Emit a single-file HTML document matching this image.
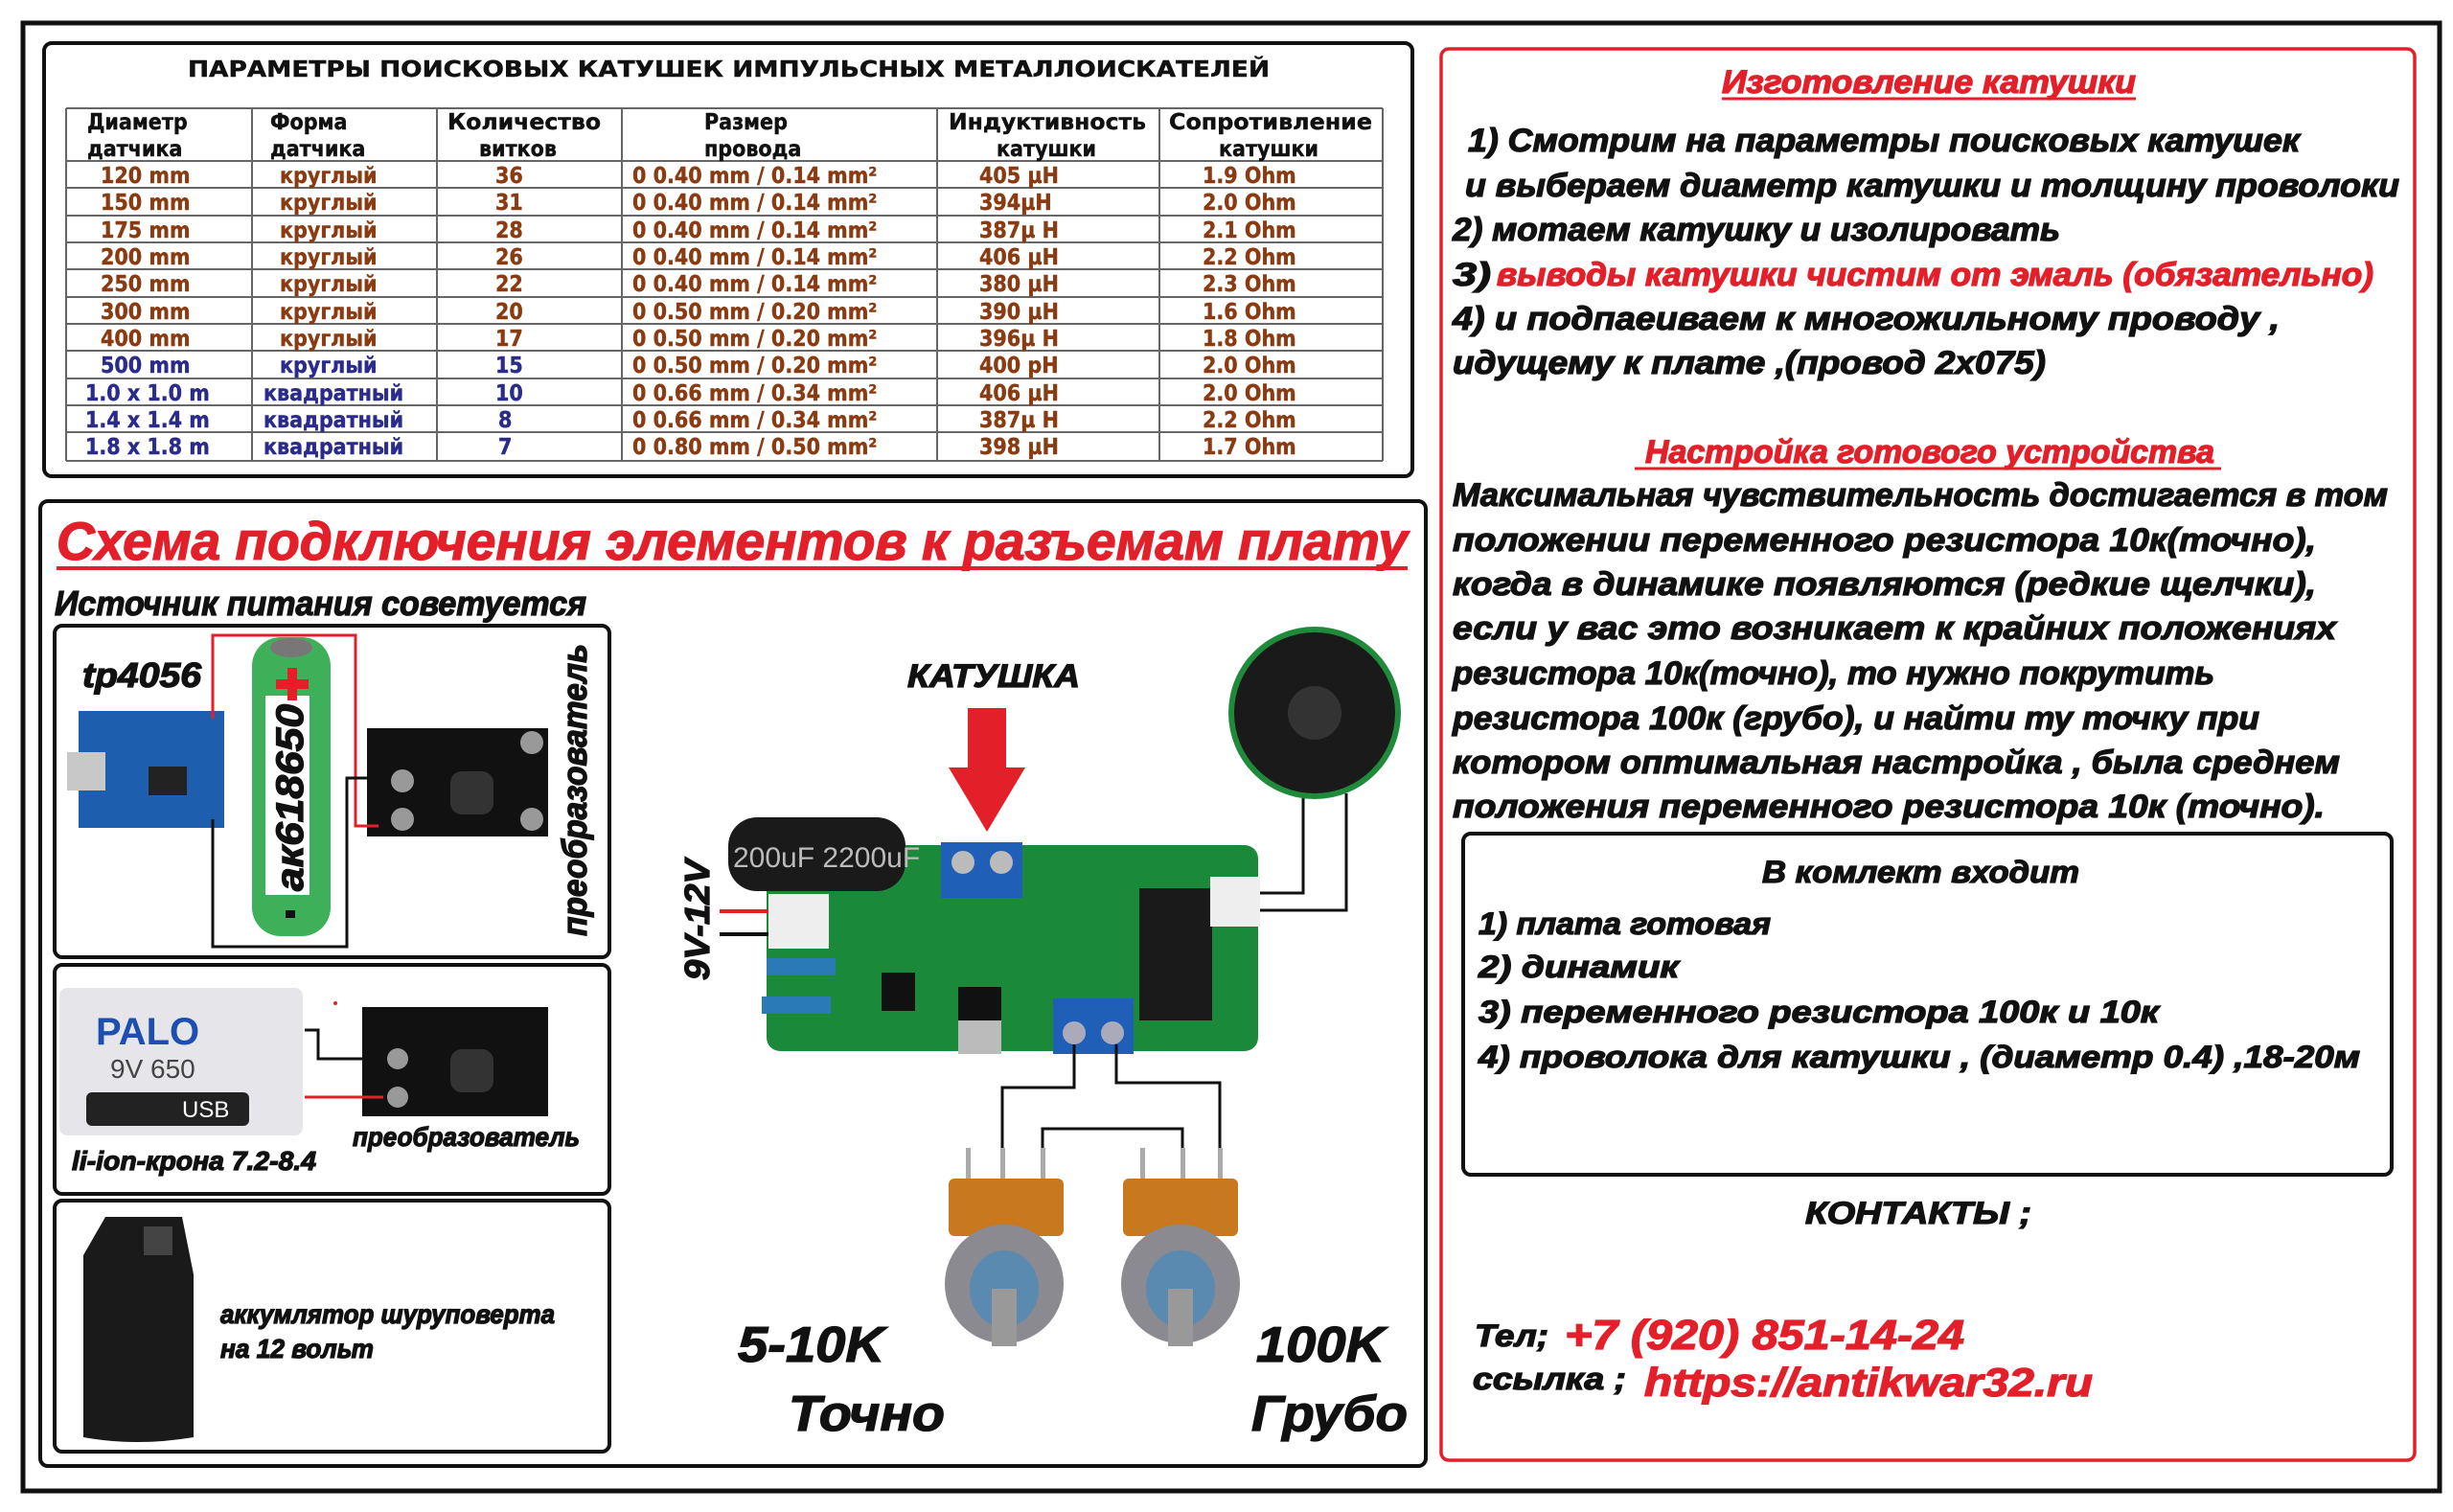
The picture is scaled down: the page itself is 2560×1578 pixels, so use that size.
<!DOCTYPE html>
<html><head><meta charset="utf-8"><style>
html,body{margin:0;padding:0;background:#fff}
svg{display:block}
.t{font-family:"DejaVu Sans Condensed","DejaVu Sans","Liberation Sans",sans-serif;font-weight:bold;font-size:23px;stroke:currentColor;stroke-width:0.4}
.r{font-family:"Liberation Sans",sans-serif;font-weight:bold;font-style:italic;stroke-width:1.3;paint-order:stroke}
</style></head><body>
<svg width="2560" height="1578" viewBox="0 0 2560 1578" xmlns="http://www.w3.org/2000/svg">
<rect width="2560" height="1578" fill="#fff"/>
<rect x="24" y="24" width="2522" height="1532" fill="none" stroke="#111" stroke-width="5"/>
<rect x="46" y="45" width="1428" height="452" rx="8" fill="none" stroke="#111" stroke-width="4"/>
<text class="t" x="196" y="80" font-size="23" fill="#111" color="#111" textLength="1129" lengthAdjust="spacingAndGlyphs">ПАРАМЕТРЫ  ПОИСКОВЫХ  КАТУШЕК  ИМПУЛЬСНЫХ  МЕТАЛЛОИСКАТЕЛЕЙ</text>
<g stroke="#666" stroke-width="2">
<line x1="69" y1="113" x2="1443" y2="113"/><line x1="69" y1="168" x2="1443" y2="168"/>
<line x1="69" y1="196" x2="1443" y2="196"/><line x1="69" y1="225" x2="1443" y2="225"/>
<line x1="69" y1="253" x2="1443" y2="253"/><line x1="69" y1="281" x2="1443" y2="281"/>
<line x1="69" y1="310" x2="1443" y2="310"/><line x1="69" y1="338" x2="1443" y2="338"/>
<line x1="69" y1="366" x2="1443" y2="366"/><line x1="69" y1="395" x2="1443" y2="395"/>
<line x1="69" y1="423" x2="1443" y2="423"/><line x1="69" y1="451" x2="1443" y2="451"/>
<line x1="69" y1="481" x2="1443" y2="481"/>
<line x1="69" y1="113" x2="69" y2="481"/><line x1="263" y1="113" x2="263" y2="481"/>
<line x1="456" y1="113" x2="456" y2="481"/><line x1="649" y1="113" x2="649" y2="481"/>
<line x1="978" y1="113" x2="978" y2="481"/><line x1="1210" y1="113" x2="1210" y2="481"/>
<line x1="1443" y1="113" x2="1443" y2="481"/>
</g>
<g class="t" fill="#111" color="#111">
<text x="91" y="135">Диаметр</text><text x="91" y="163">датчика</text>
<text x="282" y="135">Форма</text><text x="282" y="163">датчика</text>
<text x="467" y="135" textLength="160" lengthAdjust="spacingAndGlyphs">Количество</text><text x="500" y="163">витков</text>
<text x="735" y="135">Размер</text><text x="735" y="163">провода</text>
<text x="990" y="135" textLength="206" lengthAdjust="spacingAndGlyphs">Индуктивность</text><text x="1040" y="163">катушки</text>
<text x="1220" y="135" textLength="212" lengthAdjust="spacingAndGlyphs">Сопротивление</text><text x="1272" y="163">катушки</text>
</g>
<g class="t" fill="#8a3b12" color="#8a3b12">
<text x="105" y="191">120 mm</text><text x="292" y="191">круглый</text><text x="517" y="191">36</text><text x="660" y="191">0 0.40 mm / 0.14 mm²</text><text x="1022" y="191">405 µH</text><text x="1255" y="191">1.9 Ohm</text>
<text x="105" y="219">150 mm</text><text x="292" y="219">круглый</text><text x="517" y="219">31</text><text x="660" y="219">0 0.40 mm / 0.14 mm²</text><text x="1022" y="219">394µH</text><text x="1255" y="219">2.0 Ohm</text>
<text x="105" y="248">175 mm</text><text x="292" y="248">круглый</text><text x="517" y="248">28</text><text x="660" y="248">0 0.40 mm / 0.14 mm²</text><text x="1022" y="248">387µ H</text><text x="1255" y="248">2.1 Ohm</text>
<text x="105" y="276">200 mm</text><text x="292" y="276">круглый</text><text x="517" y="276">26</text><text x="660" y="276">0 0.40 mm / 0.14 mm²</text><text x="1022" y="276">406 µH</text><text x="1255" y="276">2.2 Ohm</text>
<text x="105" y="304">250 mm</text><text x="292" y="304">круглый</text><text x="517" y="304">22</text><text x="660" y="304">0 0.40 mm / 0.14 mm²</text><text x="1022" y="304">380 µH</text><text x="1255" y="304">2.3 Ohm</text>
<text x="105" y="333">300 mm</text><text x="292" y="333">круглый</text><text x="517" y="333">20</text><text x="660" y="333">0 0.50 mm / 0.20 mm²</text><text x="1022" y="333">390 µH</text><text x="1255" y="333">1.6 Ohm</text>
<text x="105" y="361">400 mm</text><text x="292" y="361">круглый</text><text x="517" y="361">17</text><text x="660" y="361">0 0.50 mm / 0.20 mm²</text><text x="1022" y="361">396µ H</text><text x="1255" y="361">1.8 Ohm</text>
<text x="660" y="389">0 0.50 mm / 0.20 mm²</text><text x="1022" y="389">400 pH</text><text x="1255" y="389">2.0 Ohm</text>
<text x="660" y="418">0 0.66 mm / 0.34 mm²</text><text x="1022" y="418">406 µH</text><text x="1255" y="418">2.0 Ohm</text>
<text x="660" y="446">0 0.66 mm / 0.34 mm²</text><text x="1022" y="446">387µ H</text><text x="1255" y="446">2.2 Ohm</text>
<text x="660" y="474">0 0.80 mm / 0.50 mm²</text><text x="1022" y="474">398 µH</text><text x="1255" y="474">1.7 Ohm</text>
</g>
<g class="t" fill="#2b2b8c" color="#2b2b8c">
<text x="105" y="389">500 mm</text><text x="292" y="389">круглый</text><text x="517" y="389">15</text>
<text x="89" y="418">1.0 x 1.0 m</text><text x="275" y="418">квадратный</text><text x="517" y="418">10</text>
<text x="89" y="446">1.4 x 1.4 m</text><text x="275" y="446">квадратный</text><text x="520" y="446">8</text>
<text x="89" y="474">1.8 x 1.8 m</text><text x="275" y="474">квадратный</text><text x="520" y="474">7</text>
</g>

<rect x="1504" y="51" width="1016" height="1473" rx="8" fill="none" stroke="#e3202a" stroke-width="3.5"/>
<g class="r" font-size="34" fill="#111" stroke="#111">
<text x="1797" y="97" fill="#e3202a" stroke="#e3202a" textLength="432" lengthAdjust="spacingAndGlyphs">Изготовление катушки</text>
<line x1="1797" y1="103" x2="2229" y2="103" stroke="#e3202a" stroke-width="3"/>
<text x="1532" y="158" textLength="868" lengthAdjust="spacingAndGlyphs">1) Смотрим на параметры поисковых катушек</text>
<text x="1529" y="205" textLength="975" lengthAdjust="spacingAndGlyphs">и выбераем диаметр катушки и толщину проволоки</text>
<text x="1516" y="251" textLength="634" lengthAdjust="spacingAndGlyphs">2) мотаем катушку и изолировать</text>
<text x="1516" y="298" textLength="40" lengthAdjust="spacingAndGlyphs">3)</text>
<text x="1562" y="298" fill="#e3202a" stroke="#e3202a" textLength="915" lengthAdjust="spacingAndGlyphs">выводы катушки чистим от эмаль (обязательно)</text>
<text x="1516" y="344" textLength="863" lengthAdjust="spacingAndGlyphs">4) и подпаеиваем к многожильному проводу ,</text>
<text x="1516" y="390" textLength="619" lengthAdjust="spacingAndGlyphs">идущему к плате ,(провод 2х075)</text>
<text x="1717" y="483" fill="#e3202a" stroke="#e3202a" textLength="594" lengthAdjust="spacingAndGlyphs">Настройка готового устройства</text>
<line x1="1706" y1="489" x2="2318" y2="489" stroke="#e3202a" stroke-width="3"/>
<text x="1516" y="528" textLength="976" lengthAdjust="spacingAndGlyphs">Максимальная чувствительность достигается в том</text>
<text x="1516" y="575" textLength="901" lengthAdjust="spacingAndGlyphs">положении переменного резистора 10к(точно),</text>
<text x="1516" y="621" textLength="901" lengthAdjust="spacingAndGlyphs">когда в динамике появляются (редкие щелчки),</text>
<text x="1516" y="667" textLength="922" lengthAdjust="spacingAndGlyphs">если у вас это возникает к крайних положениях</text>
<text x="1516" y="714" textLength="795" lengthAdjust="spacingAndGlyphs">резистора 10к(точно), то нужно покрутить</text>
<text x="1516" y="761" textLength="842" lengthAdjust="spacingAndGlyphs">резистора 100к (грубо), и найти ту точку при</text>
<text x="1516" y="807" textLength="926" lengthAdjust="spacingAndGlyphs">котором оптимальная настройка , была среднем</text>
<text x="1516" y="853" textLength="910" lengthAdjust="spacingAndGlyphs">положения переменного резистора 10к (точно).</text>
</g>
<rect x="1527" y="870" width="969" height="356" rx="8" fill="none" stroke="#111" stroke-width="4"/>
<g class="r" font-size="32" fill="#111" stroke="#111">
<text x="1839" y="921" textLength="331" lengthAdjust="spacingAndGlyphs">В комлект входит</text>
<text x="1543" y="975" textLength="305" lengthAdjust="spacingAndGlyphs">1) плата готовая</text>
<text x="1543" y="1020" textLength="209" lengthAdjust="spacingAndGlyphs">2) динамик</text>
<text x="1543" y="1067" textLength="710" lengthAdjust="spacingAndGlyphs">3) переменного резистора 100к и 10к</text>
<text x="1543" y="1114" textLength="920" lengthAdjust="spacingAndGlyphs">4) проволока для катушки , (диаметр 0.4) ,18-20м</text>
<text x="1884" y="1277" textLength="236" lengthAdjust="spacingAndGlyphs">КОНТАКТЫ ;</text>
<text x="1539" y="1405" textLength="77" lengthAdjust="spacingAndGlyphs">Тел;</text>
<text x="1633" y="1408" font-size="44" fill="#e3202a" stroke="#e3202a" textLength="417" lengthAdjust="spacingAndGlyphs">+7 (920) 851-14-24</text>
<text x="1537" y="1450" textLength="160" lengthAdjust="spacingAndGlyphs">ссылка ;</text>
<text x="1716" y="1457" font-size="42" fill="#e3202a" stroke="#e3202a" textLength="468" lengthAdjust="spacingAndGlyphs">https://antikwar32.ru</text>
</g>

<rect x="42" y="523" width="1446" height="1007" rx="8" fill="none" stroke="#111" stroke-width="4"/>
<g class="r" fill="#111" stroke="#111">
<text x="59" y="584" font-size="56" fill="#e3202a" stroke="#e3202a" textLength="1410" lengthAdjust="spacingAndGlyphs">Схема подключения элементов к разъемам плату</text>
<line x1="59" y1="593" x2="1469" y2="593" stroke="#e3202a" stroke-width="4"/>
<text x="57" y="642" font-size="36" textLength="555" lengthAdjust="spacingAndGlyphs">Источник питания советуется</text>
<text x="86" y="717" font-size="36" textLength="124" lengthAdjust="spacingAndGlyphs">tp4056</text>
<text x="947" y="717" font-size="34" textLength="180" lengthAdjust="spacingAndGlyphs">КАТУШКА</text>
<text x="368" y="1196" font-size="28" textLength="237" lengthAdjust="spacingAndGlyphs">преобразователь</text>
<text x="75" y="1221" font-size="28" textLength="255" lengthAdjust="spacingAndGlyphs">li-ion-крона 7.2-8.4</text>
<text x="230" y="1381" font-size="28" textLength="349" lengthAdjust="spacingAndGlyphs">аккумлятор шуруповерта</text>
<text x="230" y="1417" font-size="28" textLength="160" lengthAdjust="spacingAndGlyphs">на 12 вольт</text>
<text x="770" y="1421" font-size="52" textLength="153" lengthAdjust="spacingAndGlyphs">5-10K</text>
<text x="823" y="1493" font-size="52" textLength="163" lengthAdjust="spacingAndGlyphs">Точно</text>
<text x="1311" y="1421" font-size="52" textLength="134" lengthAdjust="spacingAndGlyphs">100K</text>
<text x="1306" y="1493" font-size="52" textLength="163" lengthAdjust="spacingAndGlyphs">Грубо</text>
<text transform="translate(612,977) rotate(-90)" font-size="36" textLength="305" lengthAdjust="spacingAndGlyphs">преобразователь</text>
<text transform="translate(740,1023) rotate(-90)" font-size="36" textLength="126" lengthAdjust="spacingAndGlyphs">9V-12V</text>
</g>
<rect x="57" y="653" width="579" height="346" rx="8" fill="none" stroke="#111" stroke-width="4"/>
<rect x="57" y="1007" width="579" height="239" rx="8" fill="none" stroke="#111" stroke-width="4"/>
<rect x="57" y="1253" width="579" height="262" rx="8" fill="none" stroke="#111" stroke-width="4"/>

<rect x="82" y="742" width="152" height="122" fill="#1d5fae"/>
<rect x="70" y="785" width="40" height="40" fill="#c8c8c8"/>
<rect x="155" y="800" width="40" height="30" fill="#222"/>
<rect x="383" y="760" width="189" height="113" fill="#111"/>
<circle cx="420" cy="815" r="12" fill="#999"/><circle cx="420" cy="855" r="12" fill="#999"/>
<circle cx="555" cy="775" r="12" fill="#999"/><circle cx="555" cy="855" r="12" fill="#999"/>
<rect x="470" y="805" width="45" height="45" rx="12" fill="#333"/>
<rect x="263" y="665" width="82" height="312" rx="30" fill="#3fb05a"/>
<ellipse cx="304" cy="676" rx="22" ry="10" fill="#777"/>
<rect x="277" y="726" width="46" height="208" fill="#fff"/>
<text transform="translate(316,930) rotate(-90)" class="r" font-size="40" fill="#111" stroke="#111" textLength="195" lengthAdjust="spacingAndGlyphs">ак618650</text>
<path d="M300 697h10v12h12v10h-12v12h-10v-12h-12v-10h12z" fill="#e3202a"/>
<rect x="298" y="950" width="10" height="8" fill="#111"/>
<polyline points="222,750 222,663 371,663 371,862 395,862" fill="none" stroke="#e3202a" stroke-width="3"/>
<polyline points="222,855 222,988 362,988 362,812 395,812" fill="none" stroke="#111" stroke-width="3"/>

<rect x="62" y="1031" width="254" height="154" rx="8" fill="#e6e6ea"/>
<text x="100" y="1090" font-family="Liberation Sans,sans-serif" font-weight="bold" font-size="40" fill="#1d4fb0">PALO</text>
<text x="115" y="1125" font-family="Liberation Sans,sans-serif" font-size="28" fill="#444">9V 650</text>
<rect x="90" y="1140" width="170" height="35" rx="6" fill="#222"/>
<text x="190" y="1166" font-family="Liberation Sans,sans-serif" font-size="24" fill="#fff">USB</text>
<rect x="378" y="1051" width="194" height="114" fill="#111"/>
<rect x="470" y="1095" width="45" height="45" rx="12" fill="#333"/>
<circle cx="415" cy="1105" r="11" fill="#999"/><circle cx="415" cy="1145" r="11" fill="#999"/>
<polyline points="318,1075 332,1075 332,1105 400,1105" fill="none" stroke="#111" stroke-width="3"/>
<line x1="318" y1="1145" x2="400" y2="1145" stroke="#e3202a" stroke-width="3"/>
<circle cx="350" cy="1047" r="2" fill="#e3202a"/>

<path d="M110 1270 h80 l12 60 v170 q-60 10 -115 0 v-190 z" fill="#1a1a1a"/>
<rect x="150" y="1280" width="30" height="30" fill="#444"/>

<polyline points="1360,828 1360,932 1290,932" fill="none" stroke="#111" stroke-width="3"/>
<polyline points="1405,828 1405,950 1290,950" fill="none" stroke="#111" stroke-width="3"/>
<ellipse cx="1372" cy="744" rx="90" ry="90" fill="#1f8a3a"/>
<ellipse cx="1372" cy="744" rx="84" ry="84" fill="#1a1a1a"/>
<ellipse cx="1372" cy="744" rx="28" ry="28" fill="#333"/>
<rect x="1010" y="739" width="40" height="64" fill="#e3202a"/>
<polygon points="990,801 1070,801 1030,868" fill="#e3202a"/>
<rect x="800" y="882" width="513" height="215" rx="14" fill="#1a8a3a"/>
<rect x="760" y="853" width="185" height="77" rx="30" fill="#1a1a1a"/>
<text x="765" y="905" font-family="Liberation Sans,sans-serif" font-size="30" fill="#bbb">200uF 2200uF</text>
<rect x="982" y="879" width="85" height="58" fill="#1f5fb8"/>
<circle cx="1005" cy="900" r="12" fill="#bbb"/><circle cx="1045" cy="900" r="12" fill="#bbb"/>
<rect x="1099" y="1042" width="84" height="58" fill="#1f5fb8"/>
<circle cx="1121" cy="1078" r="12" fill="#aab"/><circle cx="1161" cy="1078" r="12" fill="#aab"/>
<rect x="1189" y="927" width="76" height="138" fill="#1a1a1a"/>
<rect x="1263" y="915" width="52" height="52" fill="#eee"/>
<rect x="802" y="933" width="63" height="57" fill="#eee"/>
<rect x="800" y="1000" width="72" height="18" fill="#2a7ab8"/>
<rect x="795" y="1040" width="72" height="18" fill="#2a7ab8"/>
<rect x="1000" y="1030" width="45" height="70" fill="#bbb"/>
<rect x="1000" y="1030" width="45" height="35" fill="#111"/>
<rect x="920" y="1015" width="35" height="40" fill="#111"/>
<line x1="751" y1="951" x2="802" y2="951" stroke="#e3202a" stroke-width="4"/>
<line x1="751" y1="975" x2="802" y2="975" stroke="#111" stroke-width="4"/>
<g fill="none" stroke="#111" stroke-width="3">
<polyline points="1121,1090 1121,1135 1046,1135 1046,1230"/>
<polyline points="1165,1090 1165,1130 1273,1130 1273,1230"/>
<polyline points="1088,1230 1088,1178 1234,1178 1234,1230"/>
</g>
<g>
<rect x="1008" y="1198" width="5" height="35" fill="#aaa"/><rect x="1044" y="1198" width="5" height="35" fill="#aaa"/><rect x="1086" y="1198" width="5" height="35" fill="#aaa"/>
<rect x="990" y="1230" width="120" height="60" rx="6" fill="#c8781e"/>
<ellipse cx="1048" cy="1340" rx="62" ry="62" fill="#8a8a90"/>
<ellipse cx="1048" cy="1345" rx="36" ry="40" fill="#5a8ab0"/>
<rect x="1035" y="1345" width="26" height="60" fill="#999"/>
<rect x="1190" y="1198" width="5" height="35" fill="#aaa"/><rect x="1232" y="1198" width="5" height="35" fill="#aaa"/><rect x="1271" y="1198" width="5" height="35" fill="#aaa"/>
<rect x="1172" y="1230" width="120" height="60" rx="6" fill="#c8781e"/>
<ellipse cx="1232" cy="1340" rx="62" ry="62" fill="#8a8a90"/>
<ellipse cx="1232" cy="1345" rx="36" ry="40" fill="#5a8ab0"/>
<rect x="1219" y="1345" width="26" height="60" fill="#999"/>
</g>
</svg>
</body></html>
